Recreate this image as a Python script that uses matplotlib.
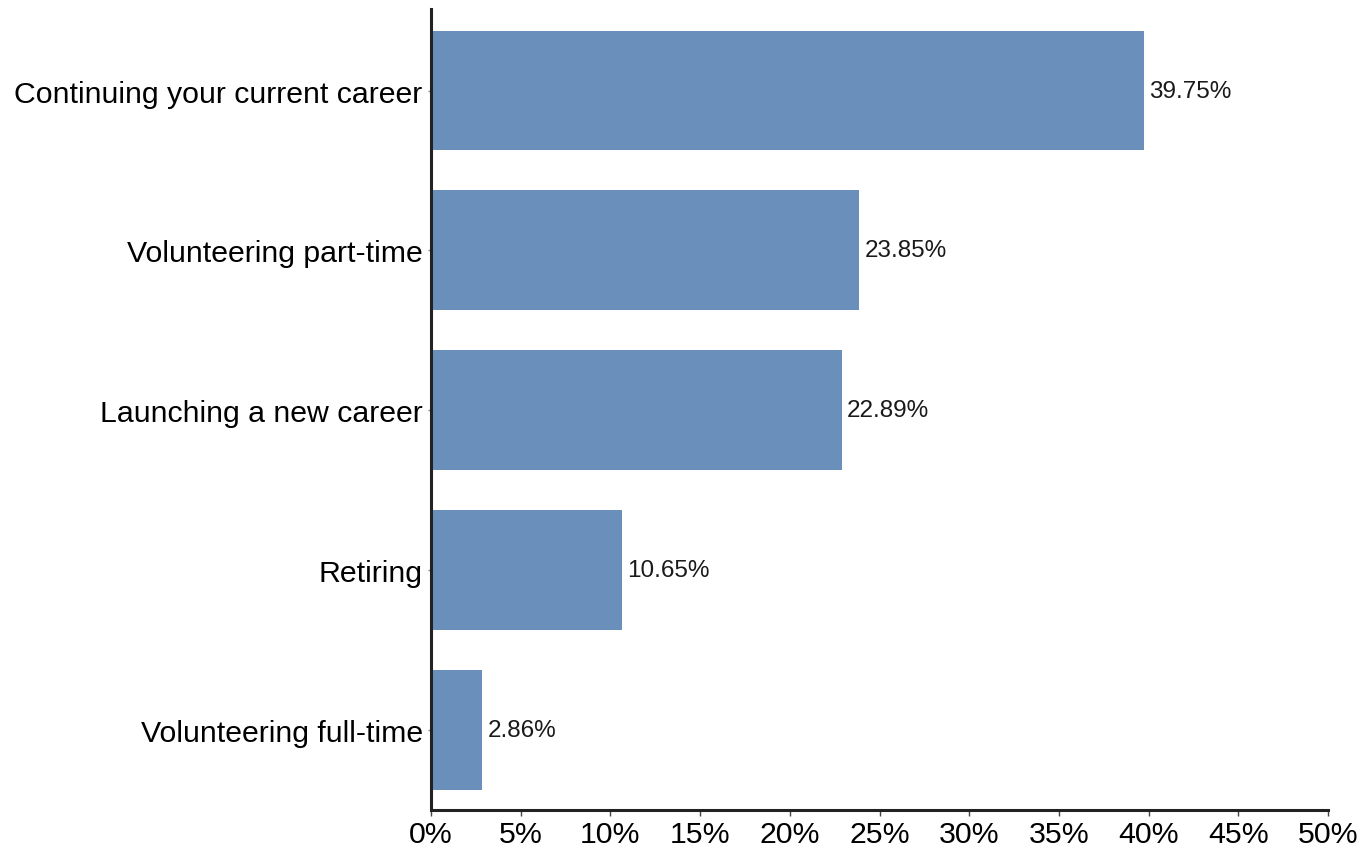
import matplotlib
matplotlib.use("Agg")
import matplotlib.pyplot as plt
from matplotlib.ticker import FuncFormatter

categories = ["Continuing your current career", "Volunteering part-time",
              "Launching a new career", "Retiring", "Volunteering full-time"]
values = [39.75, 23.85, 22.89, 10.65, 2.86]
xticks = [0, 5, 10, 15, 20, 25, 30, 35, 40, 45, 50]

plt.rcParams['font.family'] = ['Liberation Sans', 'DejaVu Sans']

fig = plt.figure(figsize=(13.64, 8.53), dpi=100)
ax = fig.add_axes([431/1364, 1-811/853, (1328-431)/1364, (811-10)/853])

y = list(range(len(categories)))
ax.barh(y, values, height=0.75, color="#6A8FBA")
for yi, v in zip(y, values):
    ax.text(v + 0.3, yi, f"{v:.2f}%", va="center", ha="left", fontsize=17.5, color="#1a1a1a")

ax.set_yticks(y)
ax.set_yticklabels(categories, fontsize=21.8)
ax.set_ylim(4.5, -0.51)
ax.set_xlim(0, 50)
ax.set_xticks(xticks)
ax.xaxis.set_major_formatter(FuncFormatter(lambda v, p: f"{v:.0f}%"))
ax.tick_params(axis='x', labelsize=21.8, length=4, width=1, color="#444", pad=3)
ax.tick_params(axis='y', length=2, width=1, color="#888", pad=4)
for s in ["top", "right"]:
    ax.spines[s].set_visible(False)
for s in ["left", "bottom"]:
    ax.spines[s].set_linewidth(2.2)
    ax.spines[s].set_color("#222222")

fig.savefig("out.png", dpi=100)
